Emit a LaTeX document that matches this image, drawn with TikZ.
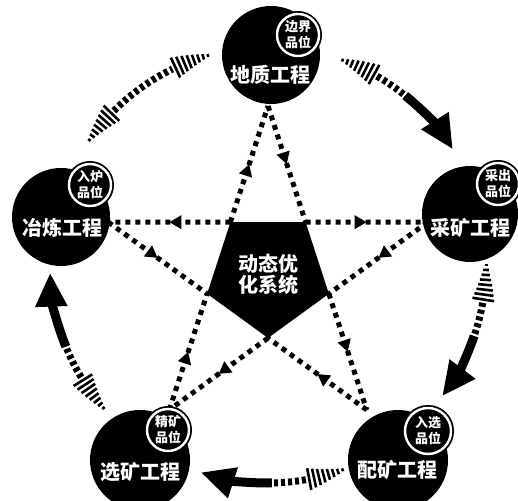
\documentclass[tikz,border=0pt]{standalone}
\usepackage{fontspec}
\newfontfamily\cjk{Noto Sans CJK SC}
\usetikzlibrary{shapes.geometric,arrows.meta,decorations.markings}
\pgfdeclarelayer{back}
\pgfsetlayers{back,main}

% striped arrow end on the outer ring: tip angle, side of the body
\newcommand{\hatchtip}[2]{%
  \foreach \k in {0,...,7}{%
    \pgfmathsetmacro{\ang}{#1+#2*1.3*\k}%
    \pgfmathsetmacro{\hw}{1.5+1.35*\k}%
    \draw[line width=2.6pt] (ring) ++(\ang:{218-\hw}) -- ++(\ang:{2*\hw});
  }}

\begin{document}
\begin{tikzpicture}[x=1pt,y=1pt,
    disc/.style={circle,fill=black,inner sep=0pt,minimum size=#1},
    tag/.style={circle,fill=black,draw=white,line width=2.4pt,
      preaction={draw=black,line width=6pt},minimum size=#1,inner sep=0pt,
      text=white,align=center,font=\cjk\bfseries\fontsize{13}{16}\selectfont},
    bigtxt/.style={text=white,inner sep=0pt,font=\cjk\bfseries\fontsize{20}{22}\selectfont},
    flowdots/.style={line width=5pt,dash pattern=on 5pt off 5pt,
      postaction={decorate},
      decoration={markings,mark=at position 0.5 with {\arrow{Triangle[length=12pt,width=13pt]}}}},
    dashbody/.style={line width=7pt,dash pattern=on 4pt off 3pt},
    solidbody/.style={line width=9pt,-{Triangle[length=34pt,width=30pt]}}]
  \useasboundingbox (0,0) rectangle (518,500);
  \clip (0,0) rectangle (518,500);

  \coordinate (O) at (268,226);
  \coordinate (ring) at (268,235);

  % centre
  \node[regular polygon,regular polygon sides=5,shape border rotate=180,
    minimum size=128pt,inner sep=0pt,outer sep=0pt,fill=black,
    text=white,align=center,font=\cjk\bfseries\fontsize{20}{21}\selectfont]
    (core) at (O) {动态优\\化系统};

  % five stages
  \node[disc=98pt] (geo) at (271,445) {};
  \node[tag=42pt] (geotag) at (298,465) {边界\\品位};
  \node[bigtxt] (geotxt) at (270,425) {地质工程};

  \node[disc=96pt] (mine) at (470,286) {};
  \node[tag=42pt] (minetag) at (498,316) {采出\\品位};
  \node[bigtxt] (minetxt) at (470,272) {采矿工程};

  \node[disc=100pt] (blend) at (398,40) {};
  \node[tag=46pt] (blendtag) at (428,69) {入选\\品位};
  \node[bigtxt] (blendtxt) at (397,30) {配矿工程};

  \node[disc=100pt] (dress) at (140,40) {};
  \node[tag=42pt] (dresstag) at (168,70) {精矿\\品位};
  \node[bigtxt] (dresstxt) at (140,28) {选矿工程};

  \node[disc=98pt] (smelt) at (61,283) {};
  \node[tag=42pt] (smelttag) at (90,315) {入炉\\品位};
  \node[bigtxt] (smelttxt) at (62,272) {冶炼工程};

  % star points
  \path (O) ++(90:168) coordinate (sgeo);
  \path (O) ++(18:168) coordinate (smine);
  \path (O) ++(-54:168) coordinate (sblend);
  \path (O) ++(-126:168) coordinate (sdress);
  \path (O) ++(162:168) coordinate (ssmelt);

  \begin{pgfonlayer}{back}
    \fill[white] (0,0) rectangle (518,500);
    \draw[flowdots] (core.corner 4) -- (sgeo);
    \draw[flowdots] (sgeo) -- (core.corner 3);
    \draw[flowdots] (core.corner 3) -- (smine);
    \draw[flowdots] (smine) -- (core.corner 2);
    \draw[flowdots] (core.corner 2) -- (sblend);
    \draw[flowdots] (sblend) -- (core.corner 1);
    \draw[flowdots] (core.corner 1) -- (sdress);
    \draw[flowdots] (sdress) -- (core.corner 5);
    \draw[flowdots] (core.corner 4) -- (ssmelt);
    \draw[flowdots] (ssmelt) -- (core.corner 5);
  \end{pgfonlayer}

  % outer ring
  \hatchtip{70}{-1}
  \draw[dashbody] (ring) ++(60:218) arc[start angle=60,end angle=51,radius=218];
  \draw[solidbody] (ring) ++(51:218) arc[start angle=51,end angle=32,radius=218];

  \hatchtip{0}{-1}
  \draw[dashbody] (ring) ++(-10:218) arc[start angle=-10,end angle=-19,radius=218];
  \draw[solidbody] (ring) ++(-19:218) arc[start angle=-19,end angle=-37,radius=218];

  \hatchtip{-70}{-1}
  \draw[dashbody] (ring) ++(-80:218) arc[start angle=-80,end angle=-89,radius=218];
  \draw[solidbody] (ring) ++(-89:218) arc[start angle=-89,end angle=-108,radius=218];

  \hatchtip{221}{-1}
  \draw[dashbody] (ring) ++(211:218) arc[start angle=211,end angle=202,radius=218];
  \draw[solidbody] (ring) ++(202:218) arc[start angle=202,end angle=182,radius=218];

  \hatchtip{145}{-1}
  \hatchtip{106}{1}
  \draw[dashbody] (ring) ++(135:218) arc[start angle=135,end angle=116,radius=218];
\end{tikzpicture}
\end{document}
